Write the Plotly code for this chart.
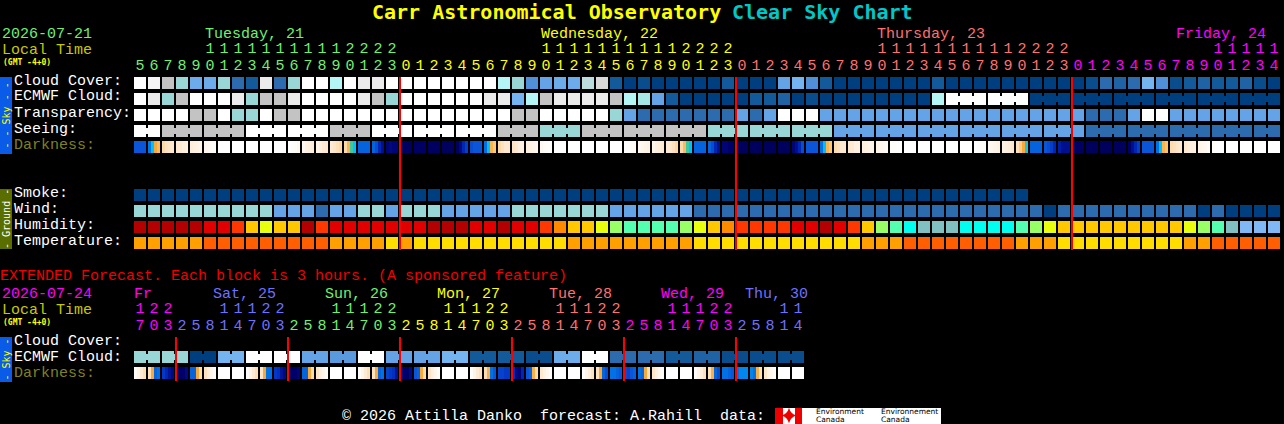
import plotly.graph_objects as go

# ---------- data: hourly forecast levels ----------
cloud_cover = [11,10.5,8,6,4.5,4.5,6,2,1,10,2,6,11,11,7,11,10,10,11,11,11,11,11,11,11,11,7,6,3,4,4.5,4.5,7.5,9,1,0,0.5,0,0,0,0,0,1,0,0,0,4,5,3,1,0,0,0,0,0,0,0,1,0,0,0,0,0,0,0,0,0,0,0.5,2,1.5,2,5,3,0.5,1,1.5,1,1,1.5,0.5,0]
ecmwf_cloud = [11,10,6,8,11,11,11,10,6,8,8,10,11,11,11,11,10,8,6,11,11,11,11,11,11,10,10,5,7,8,10,10,10,10,8,7,6.5,4,1,0,0,0,0,0,1,1,1.5,0,0.5,0,0,0,0,0,0,0,0,7,11,11,11,11,11,11,0,0,0,0,0,0,0,0,0,0,0,0,0,0,0,0,0,0]
transparency = [11,11,11,11,8,8,11,6,6,11,8,8,11,11,11,11,11,11,11,11,11,11,11,11,11,11,11,8,8,11,11,11,11,11,6,4,2,2,2,2,2,2,2,4,2,4,11,11,11,4,4,4,4,4,4,4,4,4,4,4,4,4,4,4,4,4,4,4,2,2,2,4,11,11,4,4,4,4,4,4,4,4]
seeing = [11,11,8,8,8,8,8,8,11,11,11,11,11,11,8,8,8,11,11,11,11,11,11,11,11,11,8,8,8,6,6,6,8,8,8,8,8,8,8,8,8,6,6,6,6,6,6,6,6,6,4,4,4,4,4,4,4,4,4,4,4,4,4,4,4,4,4,4,2,2,2,2,2,2,2,2,2,2,2,2,2,2]
smoke = [0,0,0,0,0,0,0,0,0,0,0,0,0,0,0,0,0,0,0,0,0,0,0,0,0,0,0,0,0,0,0,0,0,0,0,0,0,0,0,0,0,0,0,0,0,0,0,0,0,0,0,0,0,0,0,0,0,0,0,0,0,0,0,0]
wind = [6,6,6,6,6,6,6,6,6,6,4,4,4,2,4,4,6,6,4,6,6,6,4,4,4,4,4,6,6,6,6,6,6,6,4,4,4,4,4,4,2,2,2,2,2,2,2,2,2,2,2,2,2,2,2,2,2,2,2,2,2,2,2,2,2,0,2,2,2,2,2,2,2,2,2,2,0,2,0,0,0,0]
humidity = [0,0,0,0,0,1,1,2,4,5,4,4,0,2,1,1,1,1,1,1,1,0,0,0,1,1,0,1,1,2,3,4,4,5,6,7,7,7,7,6,5,4,3,2,2,2,2,1,1,0,1,2,4,6,7,8,9,9,9,8,8,8,8,7,6,5,4,4,4,4,4,4,4,4,4,5,6,7,9,10,10,10]
temperature = [0,0,0,0,0,1,1,1,1,1,1,1,1,1,0,0,0,0,2,0,2,2,2,2,2,2,2,2,2,2,2,0,0,0,0,0,0,0,0,0,2,2,2,2,2,2,2,2,2,2,2,2,0,0,0,1,1,1,1,1,1,1,1,0,0,0,2,2,2,2,2,2,2,2,2,0,0,1,1,1,1,1]
darkness = [
[70,70,70,70],[65,60,48,42],[30,24,22,20],[20,18,15,12],[16,14,12,10],[8,6,4,2],[0,0,0,0],[0,0,0,0],[0,0,0,0],[0,0,0,0],[0,0,0,0],
[0,2,4,6],[8,12,14,16],[10,14,18,20],[18,22,26,30],[30,45,55,60],[68,68,68,68],[68,72,80,85],[90,88,90,90],[95,95,95,95],[94,94,94,94],[95,95,95,95],
[96,96,96,96],[95,88,80,75],[72,70,70,70],[66,60,45,38],[30,24,20,20],[22,18,14,12],[14,12,10,8],[6,4,2,1],[0,0,0,0],[0,0,0,0],[0,0,0,0],[0,0,0,0],[0,0,0,0],
[0,1,3,5],[6,8,10,12],[10,14,16,18],[18,20,24,30],[30,42,55,60],[68,68,68,68],[68,72,80,85],[90,90,92,92],[96,96,96,96],[96,96,96,96],[96,96,96,96],[96,96,96,96],
[90,85,80,72],[70,70,70,70],[66,60,45,38],[28,24,20,18],[20,18,14,12],[14,12,10,10],[10,8,6,5],[2,2,1,1],[0,0,0,0],[0,0,0,0],[0,0,0,0],[0,0,0,0],[0,0,0,0],
[0,2,4,4],[6,8,10,12],[12,14,16,20],[25,35,48,58],[68,68,68,68],[70,72,75,80],[82,85,85,85],[94,94,94,94],[96,96,96,96],[96,96,96,96],[96,96,96,96],
[92,85,80,75],[70,70,70,70],[66,60,45,40],[28,25,22,20],[20,16,14,12],[10,8,6,4],[2,1,0,0],[0,0,0,0],[0,0,0,0],[0,0,0,0],[0,0,0,0]]

# three-hour extended forecast
ext_ecmwf = [6,6,6,6,0,0,5,5,11,11,11,11,4,4,3.5,3.5,11,11,4,4,4,4,5,5,1,1,1,1,0.5,0.5,4.5,4.5,11,11,2,2,2,2,1,1,1.5,1.5,0.5,0.5,0.5,0.5,0.5,0.5]
ext_darkness = [
[4,10,18,26],[25,48,68,66],[76,80,84,88],[92,94,92,88],[68,68,48,28],[24,16,8,2],[0,0,0,0],[0,0,0,0],
[2,10,18,26],[22,48,66,66],[76,78,84,88],[92,94,92,90],[68,68,48,28],[22,14,8,2],[0,0,0,0],[0,0,0,0],
[2,10,18,26],[24,48,68,66],[74,76,78,84],[88,92,92,88],[70,68,48,28],[22,14,8,2],[0,0,0,0],[0,0,0,0],
[2,10,18,24],[28,46,66,70],[74,74,76,76],[78,88,90,80],[70,68,46,28],[20,12,6,2],[0,0,0,0],[0,0,0,0],
[2,10,16,24],[24,48,68,72],[66,66,68,70],[72,74,70,68],[66,68,48,26],[22,14,6,2],[0,0,0,0],[0,0,0,0],
[2,10,16,24],[26,46,68,72],[66,66,68,70],[66,64,64,64],[64,66,46,26],[22,12,6,2],[0,0,0,0],[0,0,0,0]]

# tick labels
hour_tens = list("     11111111112222          11111111112222          11111111112222          11111")
hour_ones = list("5678901234567890123" "012345678901234567890123" "012345678901234567890123" "012345678901234")
ext_tens = list("122" + "   11122" + "   11122" + "   11122" + "   11122" + "   11122" + "   11")
ext_ones = list("703" + "25814703" + "25814703" + "25814703" + "25814703" + "25814703" + "25814")
day_names = ["Tuesday, 21", "Wednesday, 22", "Thursday, 23", "Friday, 24"]
ext_day_names = ["Fr", "Sat, 25", "Sun, 26", "Mon, 27", "Tue, 28", "Wed, 29", "Thu, 30"]
row_labels = ["Cloud Cover:", "ECMWF Cloud:", "Transparency:", "Seeing:", "Darkness:"]
ground_labels = ["Smoke:", "Wind:", "Humidity:", "Temperature:"]
ext_labels = ["Cloud Cover:", "ECMWF Cloud:", "Darkness:"]
main_midnights = [19, 43, 67]
ext_midnights = [3, 11, 19, 27, 35, 43]
seeing_groups = [2] + [3] * 26 + [2]
ecmwf_groups = [1] * 58 + [3] * 8
ext_groups = [2] * 24

# ---------- styles ----------
W, H = 1284, 424
GREEN, YELLOW, SALMON, MAGENTA, VIOLET = "#70f070", "#ffff00", "#ff7070", "#ff00ff", "#7070ff"
TXT = "Liberation Mono"
TITLE = "DejaVu Sans Mono"
SKY = ["#003f7f", "#135a9b", "#2c6cae", "#4f90d8", "#63a3e6", "#74b4f0", "#99d6d6", "#b4f6f6", "#c3c3c3", "#d9d9d9", "#ebebeb", "#ffffff"]
HUM = ["#b30000", "#e00000", "#ff3700", "#ff8a00", "#ffc800", "#e8ff10", "#99ff66", "#55ffb0", "#00ffee", "#80c0c0", "#7fb8f5"]
TEMP = ["#ffa000", "#ff5f00", "#ffdd00"]
DARK = [(0, "#ffffff"), (10, "#fff4e8"), (20, "#fee8cf"), (30, "#fdd9a8"), (40, "#fbc270"), (50, "#f8a32a"),
        (55, "#40c8a0"), (60, "#00c0ff"), (65, "#0078e8"), (70, "#0a55d8"), (78, "#0030c0"), (85, "#000f90"),
        (92, "#00006a"), (100, "#000050")]


def scale(colors):
    n = len(colors) - 1
    return [[k / n, c] for k, c in enumerate(colors)]


def level_color(level, colors):
    lo = int(level)
    hi = min(lo + 1, len(colors) - 1)
    t = level - lo
    a, b = colors[lo], colors[hi]
    rgb = [round(int(a[j:j + 2], 16) * (1 - t) + int(b[j:j + 2], 16) * t) for j in (1, 3, 5)]
    return "rgb(%d,%d,%d)" % tuple(rgb)


PITCH_X, PITCH_Y = 14, 16
X0_PX, Y0_PX = 140, 83          # pixel of column 0 / row 0 centre
xr = [(0 - X0_PX) / PITCH_X, (W - X0_PX) / PITCH_X]
yr = [(H - Y0_PX) / PITCH_Y, (0 - Y0_PX) / PITCH_Y]


def yrow(px):
    return (px - Y0_PX) / PITCH_Y


fig = go.Figure()


def cells(vals, row_px, colors):
    fig.add_trace(go.Heatmap(z=[vals], x0=0, dx=1, y0=yrow(row_px), dy=1, xgap=2, ygap=4,
                             colorscale=scale(colors), zmin=0, zmax=len(colors) - 1,
                             showscale=False, hoverinfo="skip"))


def joins(vals, row_px, colors, groups):
    start = 0
    for n in groups:
        if n > 1:
            fig.add_trace(go.Scatter(x=[start, start + n - 1], y=[yrow(row_px)] * 2, mode="lines",
                                     line=dict(color=level_color(vals[start], colors), width=6),
                                     hoverinfo="skip", showlegend=False))
        start += n


def dark_cells(samples, row_px):
    edges, z = [], []
    sub = 12 / 4 / PITCH_X
    for i, s in enumerate(samples):
        left = i - 3 / 7
        for k, v in enumerate(s):
            edges.append(left + k * sub)
            z.append(v)
        edges.append(left + 12 / PITCH_X)
        z.append(None)
    edges.append(len(samples) - 3 / 7)
    y = yrow(row_px)
    fig.add_trace(go.Heatmap(z=[z], x=edges, y=[y - 0.375, y + 0.375], hoverongaps=False,
                             colorscale=[[p / 100, c] for p, c in DARK], zmin=0, zmax=100,
                             showscale=False, hoverinfo="skip"))


cells(cloud_cover, 83, SKY)
cells(ecmwf_cloud, 99, SKY)
cells(transparency, 115, SKY)
cells(seeing, 131, SKY)
dark_cells(darkness, 147)
cells(smoke, 195, SKY)
cells(wind, 211, SKY)
cells(humidity, 227, HUM)
cells(temperature, 243, TEMP)
cells(ext_ecmwf, 357, SKY)
dark_cells(ext_darkness, 373)

joins(seeing, 131, SKY, seeing_groups)
joins(ecmwf_cloud, 99, SKY, ecmwf_groups)
joins(ext_ecmwf, 357, SKY, ext_groups)

# midnight markers
for m in main_midnights:
    fig.add_trace(go.Scatter(x=[m - 3 / 7] * 2, y=[yrow(77), yrow(250)], mode="lines",
                             line=dict(color="#ff0000", width=2), hoverinfo="skip", showlegend=False))
for m in ext_midnights:
    fig.add_trace(go.Scatter(x=[m - 3 / 7] * 2, y=[yrow(337), yrow(381)], mode="lines",
                             line=dict(color="#ff0000", width=2), hoverinfo="skip", showlegend=False))


def digits(tens, ones, y_tens, y_ones, day_lengths, day_colors):
    cols = []
    for n, c in zip(day_lengths, day_colors):
        cols += [c] * n
    for labels, y in ((tens, y_tens), (ones, y_ones)):
        keep = [i for i, t in enumerate(labels) if t != " "]
        fig.add_trace(go.Scatter(x=keep, y=[yrow(y)] * len(keep), mode="text",
                                 text=[labels[i] for i in keep],
                                 textfont=dict(family=TXT, size=15, color=[cols[i] for i in keep]),
                                 textposition="middle center", hoverinfo="skip", showlegend=False))


digits(hour_tens, hour_ones, 49, 66, [19, 24, 24, 15], [GREEN, YELLOW, SALMON, MAGENTA])
digits(ext_tens, ext_ones, 309, 326, [3, 8, 8, 8, 8, 8, 5], [MAGENTA, VIOLET, GREEN, YELLOW, SALMON, MAGENTA, VIOLET])


def txt(x, y, s, color="#ffffff", size=15, **kw):
    fig.add_annotation(x=x / W, y=1 - y / H, xref="paper", yref="paper", text=s, showarrow=False,
                       xanchor=kw.pop("xanchor", "left"), yanchor="middle", borderpad=0, borderwidth=0,
                       font=dict(family=kw.pop("family", TXT), size=size, color=color, **kw.pop("font", {})), **kw)


txt(372, 12, "Carr Astronomical Observatory", YELLOW, 20, family=TITLE, font=dict(weight="bold"))
txt(732, 12, "Clear Sky Chart", "#00c8c8", 20, family=TITLE, font=dict(weight="bold"))

for name, x, c in zip(day_names, [205, 541, 877, 1176], [GREEN, YELLOW, SALMON, MAGENTA]):
    txt(x, 34, name, c)
txt(2, 34, "2026-07-21", GREEN)
txt(2, 50, "Local Time", "#c8c800")
txt(3, 62, "(GMT -4+0)", YELLOW, 8, family=TITLE, font=dict(weight="bold"))
for k, lab in enumerate(row_labels):
    txt(14, 81 + 16 * k, lab, "#808020" if lab == "Darkness:" else "#ffffff")
for k, lab in enumerate(ground_labels):
    txt(14, 193 + 16 * k, lab)

txt(0, 276, "EXTENDED Forecast. Each block is 3 hours. (A sponsored feature)", "#f00000")
txt(2, 294, "2026-07-24", MAGENTA)
txt(2, 310, "Local Time", "#c8c800")
txt(3, 322, "(GMT -4+0)", YELLOW, 8, family=TITLE, font=dict(weight="bold"))
for name, x, c in zip(ext_day_names, [134, 213, 325, 437, 549, 661, 745],
                      [MAGENTA, VIOLET, GREEN, YELLOW, SALMON, MAGENTA, VIOLET]):
    txt(x, 294, name, c)
for k, lab in enumerate(ext_labels):
    txt(14, 341 + 16 * k, lab, "#808020" if lab == "Darkness:" else "#ffffff")

txt(342, 416, "© 2026 Attilla Danko\u00a0\u00a0forecast: A.Rahill\u00a0\u00a0data:")


def rect(x0, y0, x1, y1, color):
    return dict(type="rect", xref="paper", yref="paper", x0=x0 / W, x1=x1 / W, y0=1 - y0 / H, y1=1 - y1 / H,
                fillcolor=color, line_width=0, layer="below")


shapes = [rect(0, 77, 12, 154, "#0a5ce8"), rect(0, 189, 12, 249, "#5a6e00"), rect(0, 337, 12, 382, "#0a5ce8"),
          rect(775, 408, 941, 424, "#ffffff"), rect(775, 408, 783, 424, "#ee0000"), rect(795, 408, 802, 424, "#ee0000")]
txt(6, 115.5, "- - Sky - -", YELLOW, 10, family=TITLE, textangle=-90, xanchor="center")
txt(6, 219, "- Ground -", "#ffffff", 10, family=TITLE, textangle=-90, xanchor="center")
txt(6, 359.5, "- Sky -", YELLOW, 10, family=TITLE, textangle=-90, xanchor="center")

# Canadian flag leaf and the Environment Canada wordmarks
fig.add_trace(go.Scatter(x=[(789 - X0_PX) / PITCH_X], y=[yrow(415.5)], mode="markers",
                         marker=dict(symbol="star-diamond", size=11, color="#ee0000"), hoverinfo="skip", showlegend=False))
for x, a in ((816, "Environment"), (881, "Environnement")):
    txt(x, 411.5, a, "#000000", 7.5, family="DejaVu Sans")
    txt(x, 419.7, "Canada", "#000000", 7.5, family="DejaVu Sans")

fig.update_layout(
    width=W, height=H, autosize=False, margin=dict(l=0, r=0, t=0, b=0, pad=0),
    paper_bgcolor="#000000", plot_bgcolor="#000000", showlegend=False, shapes=shapes,
    xaxis=dict(range=xr, visible=False, fixedrange=True, showgrid=False, zeroline=False),
    yaxis=dict(range=yr, visible=False, fixedrange=True, showgrid=False, zeroline=False),
)
fig.write_html("out.html", config=dict(displayModeBar=False, responsive=False),
               post_script="document.body.style.margin='0';document.body.style.background='#000';document.body.style.overflow='hidden';")
